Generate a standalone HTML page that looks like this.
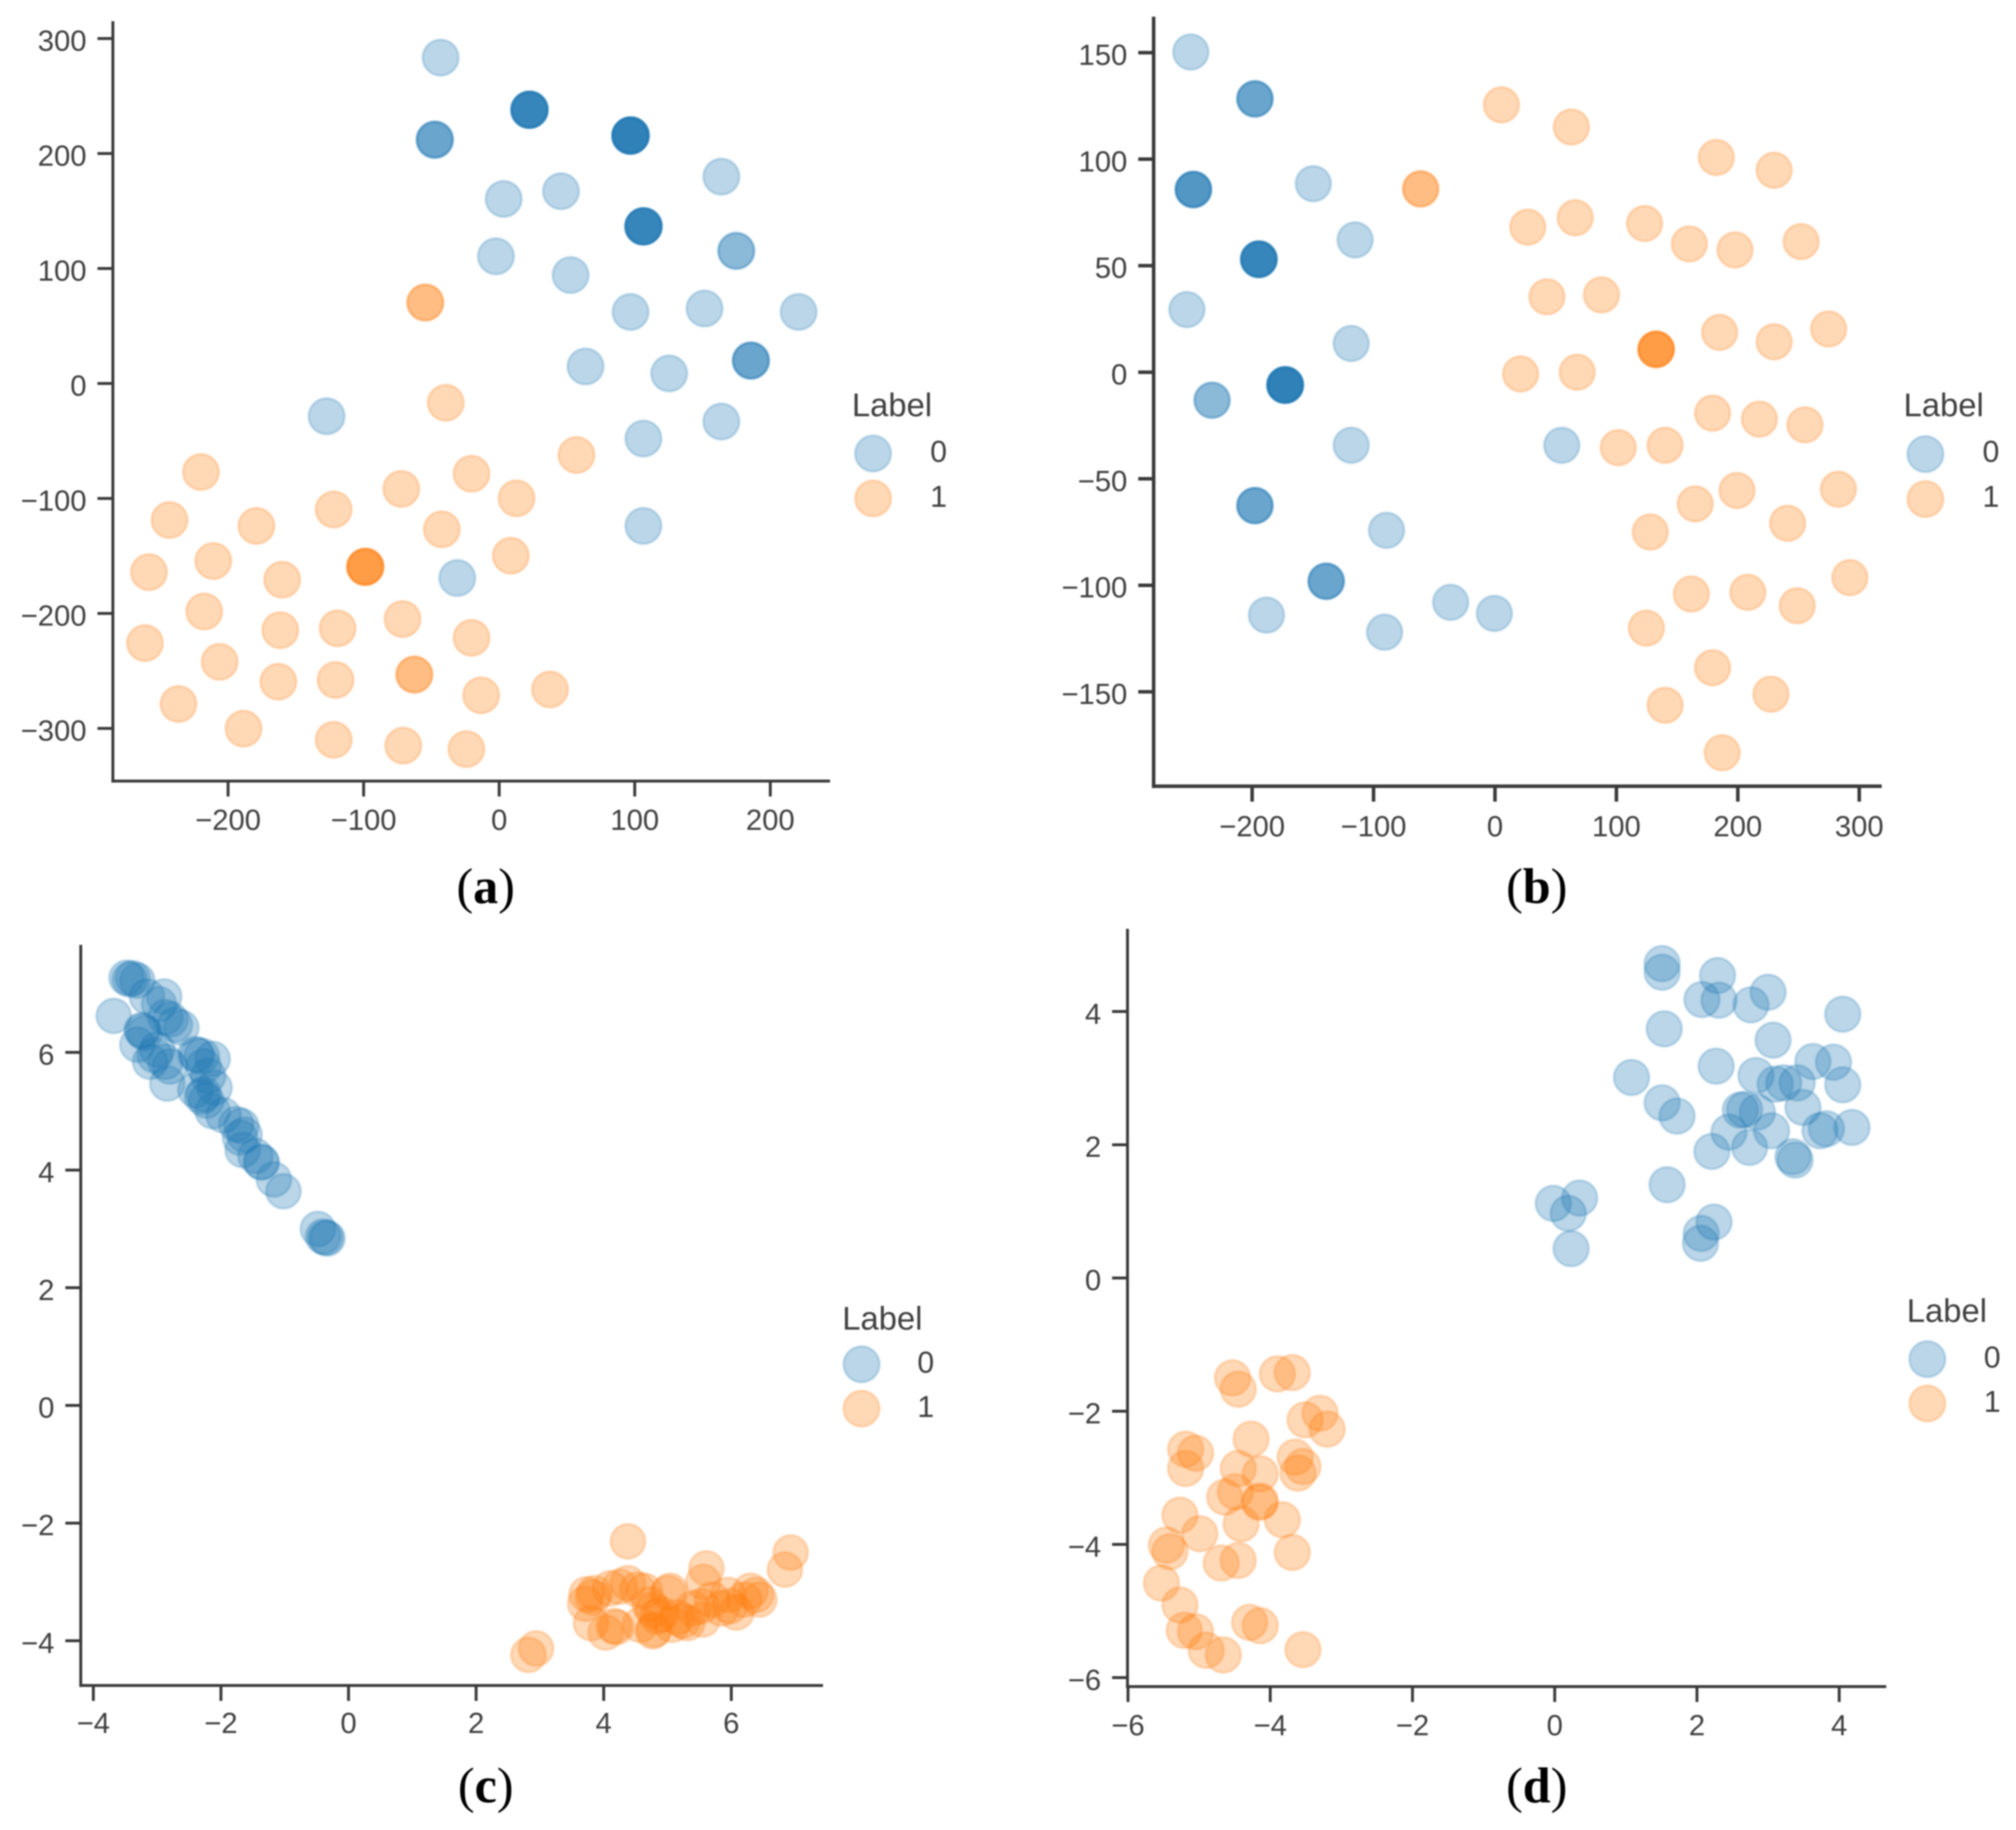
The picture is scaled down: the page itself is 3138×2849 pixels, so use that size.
<!DOCTYPE html>
<html lang="en">
<head>
<meta charset="utf-8">
<title>Scatter plots, panels a to d</title>
<style>
  html, body { margin: 0; padding: 0; background: #ffffff; }
  svg { display: block; filter: blur(1px); }
  .tick-text { font-family: "Liberation Sans", sans-serif; font-size: 45.5px; fill: #404040; }
  .legend-title { font-family: "Liberation Sans", sans-serif; font-size: 51px; fill: #404040; }
  .legend-text { font-family: "Liberation Sans", sans-serif; font-size: 47px; fill: #404040; }
  .caption { font-family: "Liberation Serif", serif; font-size: 78px; fill: #000000; }
</style>
</head>
<body>
<svg id="figure" xmlns="http://www.w3.org/2000/svg" width="3138" height="2849" viewBox="0 0 3138 2849">
  <rect x="0" y="0" width="3138" height="2849" fill="#ffffff"/>
  <g id="panel-a"></g>
  <g id="panel-b"></g>
  <g id="panel-c"></g>
  <g id="panel-d"></g>

  <g>
    <text class="legend-title" x="1326" y="648">Label</text>
    <circle cx="1359" cy="706" r="28" fill="#1f77b4" fill-opacity="0.3" stroke="#1f77b4" stroke-opacity="0.2" stroke-width="4"/>
    <circle cx="1359" cy="776" r="28" fill="#ff7f0e" fill-opacity="0.3" stroke="#ff7f0e" stroke-opacity="0.2" stroke-width="4"/>
    <text class="legend-text" x="1461" y="719" text-anchor="middle">0</text>
    <text class="legend-text" x="1461" y="789" text-anchor="middle">1</text>
  </g>
  <g>
    <text class="legend-title" x="2963" y="648">Label</text>
    <circle cx="2997" cy="707" r="28" fill="#1f77b4" fill-opacity="0.3" stroke="#1f77b4" stroke-opacity="0.2" stroke-width="4"/>
    <circle cx="2997" cy="777" r="28" fill="#ff7f0e" fill-opacity="0.3" stroke="#ff7f0e" stroke-opacity="0.2" stroke-width="4"/>
    <text class="legend-text" x="3099" y="719" text-anchor="middle">0</text>
    <text class="legend-text" x="3099" y="789" text-anchor="middle">1</text>
  </g>
  <g>
    <text class="legend-title" x="1311" y="2070">Label</text>
    <circle cx="1341" cy="2124" r="28" fill="#1f77b4" fill-opacity="0.3" stroke="#1f77b4" stroke-opacity="0.2" stroke-width="4"/>
    <circle cx="1341" cy="2193" r="28" fill="#ff7f0e" fill-opacity="0.3" stroke="#ff7f0e" stroke-opacity="0.2" stroke-width="4"/>
    <text class="legend-text" x="1441" y="2137" text-anchor="middle">0</text>
    <text class="legend-text" x="1441" y="2206" text-anchor="middle">1</text>
  </g>
  <g>
    <text class="legend-title" x="2968" y="2058">Label</text>
    <circle cx="3000" cy="2116" r="28" fill="#1f77b4" fill-opacity="0.3" stroke="#1f77b4" stroke-opacity="0.2" stroke-width="4"/>
    <circle cx="3000" cy="2185" r="28" fill="#ff7f0e" fill-opacity="0.3" stroke="#ff7f0e" stroke-opacity="0.2" stroke-width="4"/>
    <text class="legend-text" x="3101" y="2129" text-anchor="middle">0</text>
    <text class="legend-text" x="3101" y="2198" text-anchor="middle">1</text>
  </g>

  <text class="caption" x="756" y="1406" text-anchor="middle">(<tspan font-weight="bold">a</tspan>)</text>
  <text class="caption" x="2392" y="1406" text-anchor="middle">(<tspan font-weight="bold">b</tspan>)</text>
  <text class="caption" x="756" y="2806" text-anchor="middle">(<tspan font-weight="bold">c</tspan>)</text>
  <text class="caption" x="2392" y="2806" text-anchor="middle">(<tspan font-weight="bold">d</tspan>)</text>
</svg>

<script>
/* Panel (a) */
const aXTicks = [-200, -100, 0, 100, 200];
const aYTicks = [300, 200, 100, 0, -100, -200, -300];
const aBlueX = [-43.2, -47.5, -47.3, -47.7, 22.3, 22.5, 22.1, 22.4, 22.2, 22.6, 96.9, 97.1, 96.7, 97, 96.8, 97.2, 96.6, 163.9, 3.3, 45.6, 106.4, 106.6, 106.2, 106.5, 106.3, 106.7, 174.8, 175, -2.4, 52.7, 96.9, 151.5, 220.9, 185.7, 185.9, 185.5, 63.7, 125.4, 163.9, 106.4, -127.3, 106.4, -30.9];
const aBlueY = [283.4, 212, 212.2, 211.8, 238, 238.2, 237.8, 238.1, 237.9, 238.3, 215.6, 215.8, 215.4, 215.7, 215.5, 215.9, 215.3, 179.9, 160.5, 167.2, 136.6, 136.8, 136.4, 136.7, 136.5, 136.9, 115.2, 115.4, 110.6, 94.3, 62.2, 65.2, 62.2, 19.9, 20.1, 19.7, 14.8, 8.7, -33.1, -47.9, -28.5, -123.9, -169.2];
const aOrangeX = [-54.6, -54.4, -39.4, 57, -220, -20.4, -72.2, 12.8, -122.1, -243.2, -179.1, -42.3, 8.6, -210.9, -258.4, -160.1, -98.8, -98.6, -99, -98.7, -217.6, -71.3, -161.5, -119.2, -20.4, -261.3, -206.2, -162.9, -120.7, -62.7, -62.5, -13.3, 37.5, -236.6, -188.6, -122.1, -70.8, -24.2];
const aOrangeY = [70.3, 70.5, -16.8, -62.2, -77, -78.5, -91.7, -99.9, -109.6, -118.8, -123.9, -126.9, -149.8, -154.4, -164.1, -170.7, -159.5, -159.3, -159.7, -159.4, -198.3, -204.9, -214.6, -213, -221.2, -225.8, -242.1, -259.4, -257.9, -253.3, -253.1, -271.2, -266.1, -278.8, -300.2, -309.9, -315, -318];

/* Panel (b) */
const bXTicks = [-200, -100, 0, 100, 200, 300];
const bYTicks = [150, 100, 50, 0, -50, -100, -150];
const bBlueX = [-250.5, -197.7, -197.5, -197.9, -248.4, -248.2, -248.6, -248.3, -149.6, -115.2, -194.5, -194.3, -194.7, -194.4, -194.6, -194.2, -253.7, -118.4, -233.1, -232.9, -172.8, -172.6, -173, -172.7, -172.9, -172.5, -173.1, -118.4, 55, -197.7, -197.5, -197.9, -89.3, -139, -138.8, -139.2, -188.2, -36.5, -0.5, -90.9];
const bBlueY = [150.3, 128.3, 128.4, 128.2, 85.7, 85.8, 85.6, 85.9, 88.5, 62.1, 53, 53.1, 52.9, 53.2, 52.8, 53.05, 29.4, 13.5, -13.2, -13.1, -6, -5.9, -6.1, -5.8, -6.2, -6.05, -5.95, -34.3, -34.3, -62.6, -62.5, -62.7, -74.2, -98.1, -98, -98.2, -114, -108, -113.2, -122];
const bOrangeX = [5.3, 62.9, 182.3, 229.9, -61.3, -61.1, 27, 66.1, 123.2, 160.1, 197.7, 252.1, 42.8, 87.7, 132.7, 132.9, 132.5, 132.8, 185, 229.9, 274.8, 21.1, 67.7, 179.2, 217.8, 255.3, 101.5, 140.1, 164.9, 199.3, 282.8, 241, 127.9, 161.7, 208.2, 248.9, 292.3, 124.7, 179.2, 227.3, 140.1, 187.1];
const bOrangeY = [125.5, 115.1, 100.8, 94.8, 86, 86.1, 68.1, 72.5, 69.8, 60.2, 57.4, 61.3, 35.4, 36.3, 10.7, 10.8, 10.6, 10.9, 18.7, 14.3, 20.3, -0.8, 0, -19.2, -22, -24.7, -35.4, -34.3, -61.8, -55.5, -54.9, -70.9, -75, -104.1, -103.3, -109.6, -96.4, -120.1, -138.7, -151.1, -156.3, -178.6];

/* Panel (c) */
const cXTicks = [-4, -2, 0, 2, 4, 6];
const cYTicks = [6, 4, 2, 0, -2, -4];
const cBlueX = [-3.68, -3.48, -3.43, -3.38, -3.31, -3.16, -2.89, -2.97, -2.87, -2.79, -2.72, -3.24, -3.23, -3.19, -3.31, -3.04, -3.11, -2.87, -2.8, -2.84, -2.37, -2.3, -2.4, -2.13, -2.27, -2.1, -2.4, -2.27, -2.23, -2.3, -2.13, -1.96, -1.76, -1.68, -1.63, -1.66, -1.7, -1.37, -1.46, -1.36, -1.17, -1.02, -0.48, -0.36, -0.33, -0.4, -2.62, -3, -2.2];
const cBlueY = [6.62, 7.27, 7.24, 7.26, 7.22, 6.95, 6.95, 6.82, 6.6, 6.56, 6.47, 6.38, 6.36, 6.33, 6.13, 5.95, 5.84, 5.84, 5.76, 5.47, 5.95, 5.94, 5.97, 5.89, 5.76, 5.4, 5.36, 5.29, 5.18, 5.25, 5, 4.93, 4.78, 4.75, 4.6, 4.34, 4.55, 4.14, 4.24, 4.13, 3.84, 3.64, 3, 2.85, 2.84, 2.87, 6.42, 6.05, 5.6];
const cOrangeX = [4.38, 6.93, 6.84, 5.61, 5.56, 2.82, 2.94, 3.73, 3.71, 3.83, 3.86, 3.8, 4.03, 4.2, 4.16, 4.1, 4.38, 4.53, 4.25, 4.77, 4.79, 5.04, 5.01, 4.77, 5.07, 5.31, 5.24, 5.55, 5.53, 5.95, 6.08, 5.98, 6.39, 6.3, 6.44, 4.64, 4.84, 4.57, 4.72, 4.9, 5.15, 5.4, 5.7, 5.85, 6.2];
const cOrangeY = [-2.31, -2.5, -2.79, -2.77, -3, -4.24, -4.13, -3.21, -3.37, -3.26, -3.19, -3.7, -3.86, -3.77, -3.75, -3.11, -3.02, -3.13, -3.08, -3.84, -3.81, -3.15, -3.19, -3.48, -3.73, -3.7, -3.66, -3.64, -3.41, -3.22, -3.52, -3.41, -3.22, -3.15, -3.3, -3.15, -3.59, -3.73, -3.38, -3.55, -3.6, -3.45, -3.3, -3.45, -3.3];

/* Panel (d) */
const dXTicks = [-6, -4, -2, 0, 2, 4];
const dYTicks = [4, 2, 0, -2, -4, -6];
const dBlueX = [1.51, 1.51, 2.29, 2.07, 2.31, 2.76, 3, 4.05, 1.54, 3.07, 1.08, 2.27, 3.63, 3.92, 2.83, 3.1, 3.22, 3.41, 4.05, 3.49, 1.51, 1.72, 2.61, 2.67, 2.85, 2.45, 3.05, 3.73, 3.82, 4.18, 2.21, 2.74, 3.35, 3.38, 1.58, -0.02, 0.35, 0.19, 0.23, 2.24, 2.06, 2.05];
const dBlueY = [4.72, 4.59, 4.54, 4.18, 4.17, 4.1, 4.29, 3.96, 3.74, 3.57, 3.01, 3.18, 3.25, 3.24, 3.04, 2.91, 2.93, 2.93, 2.9, 2.56, 2.63, 2.43, 2.52, 2.53, 2.49, 2.19, 2.21, 2.21, 2.24, 2.26, 1.9, 1.96, 1.82, 1.77, 1.4, 1.12, 1.2, 0.97, 0.44, 0.84, 0.67, 0.52];
const dOrangeX = [-4.53, -4.45, -3.9, -3.69, -3.3, -3.51, -3.2, -4.27, -5.19, -5.05, -5.19, -3.65, -3.54, -3.61, -4.45, -4.14, -4.64, -4.49, -4.14, -4.15, -4.41, -3.83, -5.27, -4.99, -5.46, -5.41, -4.69, -4.45, -3.69, -5.53, -5.27, -5.21, -5.05, -4.9, -4.66, -4.29, -4.14, -3.54];
const dOrangeY = [-1.5, -1.67, -1.44, -1.42, -2.03, -2.13, -2.27, -2.42, -2.57, -2.63, -2.86, -2.69, -2.83, -2.93, -2.86, -2.94, -3.29, -3.21, -3.35, -3.37, -3.69, -3.63, -3.56, -3.84, -4.01, -4.11, -4.28, -4.24, -4.12, -4.58, -4.91, -5.29, -5.31, -5.59, -5.66, -5.17, -5.22, -5.58];

const SVG_NS = 'http://www.w3.org/2000/svg';
const BLUE = '#1f77b4';
const ORANGE = '#ff7f0e';
const AXIS_COLOR = '#3a3a3a';

function makeNode(tag, attrs, parent) {
  const node = document.createElementNS(SVG_NS, tag);
  Object.keys(attrs).forEach(function (key) { node.setAttribute(key, attrs[key]); });
  parent.appendChild(node);
  return node;
}

function formatTick(value) {
  return String(value).replace('-', '\u2212');
}

function drawSeries(parent, xs, ys, xScale, yScale, color, radius, label) {
  xs.forEach(function (xValue, i) {
    const point = makeNode('circle', {
      cx: xScale(xValue), cy: yScale(ys[i]), r: radius,
      fill: color, 'fill-opacity': 0.3,
      stroke: color, 'stroke-opacity': 0.2, 'stroke-width': 4
    }, parent);
    
    
  });
}

function drawPanel(id, geometry, xTicks, yTicks, blueX, blueY, orangeX, orangeY) {
  const root = document.getElementById(id);
  const xScale = function (v) { return geometry.x0 + v * geometry.xUnit; };
  const yScale = function (v) { return geometry.y0 - v * geometry.yUnit; };
  const half = geometry.lineWidth / 2;

  drawSeries(root, blueX, blueY, xScale, yScale, BLUE, geometry.radius, 0);
  drawSeries(root, orangeX, orangeY, xScale, yScale, ORANGE, geometry.radius, 1);

  const ySpine = makeNode('line', {
    x1: geometry.left, x2: geometry.left, y1: geometry.top, y2: geometry.bottom + half,
    stroke: AXIS_COLOR, 'stroke-width': geometry.lineWidth
  }, root);
  
  

  const xSpine = makeNode('line', {
    x1: geometry.left - half, x2: geometry.right, y1: geometry.bottom, y2: geometry.bottom,
    stroke: AXIS_COLOR, 'stroke-width': geometry.lineWidth
  }, root);
  
  

  xTicks.forEach(function (value) {
    const tick = makeNode('line', {
      x1: xScale(value), x2: xScale(value), y1: geometry.bottom, y2: geometry.bottom + 24,
      stroke: AXIS_COLOR, 'stroke-width': geometry.lineWidth
    }, root);
    
    
    const label = makeNode('text', {
      x: xScale(value), y: geometry.bottom + geometry.xLabelGap,
      'text-anchor': 'middle', 'class': 'tick-text'
    }, root);
    label.textContent = formatTick(value);
    
    
  });

  yTicks.forEach(function (value) {
    const tick = makeNode('line', {
      x1: geometry.left - 24, x2: geometry.left, y1: yScale(value), y2: yScale(value),
      stroke: AXIS_COLOR, 'stroke-width': geometry.lineWidth
    }, root);
    
    
    const label = makeNode('text', {
      x: geometry.left - 41, y: yScale(value) + 19,
      'text-anchor': 'end', 'class': 'tick-text'
    }, root);
    label.textContent = formatTick(value);
    
    
  });
}

drawPanel('panel-a',
  { left: 175.7, right: 1292, top: 33, bottom: 1216, x0: 777, xUnit: 2.11, y0: 597, yUnit: 1.79, radius: 28, lineWidth: 4.5, xLabelGap: 76 },
  aXTicks, aYTicks, aBlueX, aBlueY, aOrangeX, aOrangeY);
drawPanel('panel-b',
  { left: 1795.7, right: 2929, top: 26, bottom: 1224, x0: 2327, xUnit: 1.89, y0: 579.5, yUnit: 3.317, radius: 27.5, lineWidth: 5.5, xLabelGap: 78 },
  bXTicks, bYTicks, bBlueX, bBlueY, bOrangeX, bOrangeY);
drawPanel('panel-c',
  { left: 125.7, right: 1281, top: 1471, bottom: 2624, x0: 542.5, xUnit: 99.3, y0: 2188, yUnit: 91.6, radius: 27, lineWidth: 4.5, xLabelGap: 74 },
  cXTicks, cYTicks, cBlueX, cBlueY, cOrangeX, cOrangeY);
drawPanel('panel-d',
  { left: 1755, right: 2936, top: 1446, bottom: 2625.7, x0: 2420, xUnit: 110.7, y0: 1989.6, yUnit: 103.7, radius: 27.5, lineWidth: 4.5, xLabelGap: 76 },
  dXTicks, dYTicks, dBlueX, dBlueY, dOrangeX, dOrangeY);
</script>
</body>
</html>
